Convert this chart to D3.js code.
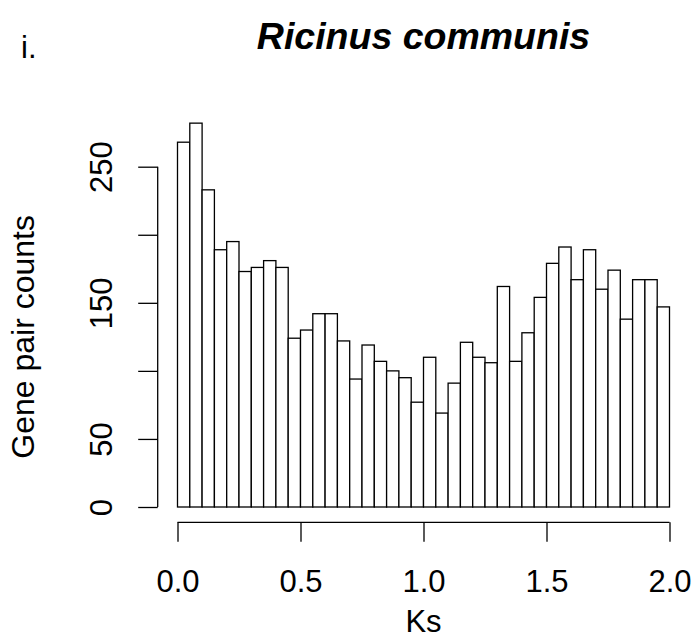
<!DOCTYPE html>
<html>
	<head>
		<meta charset="utf-8">
		<title>Ks histogram: Ricinus communis</title>
		<script src="https://d3js.org/d3.v7.min.js"></script>
		<style type="text/css">
			body { margin: 0; background: #fff; }
			text { font-family: "Liberation Sans", Arial, sans-serif; fill: #000; }
		</style>
	</head>
	<body>
		<script type="text/javascript">

			var svgWidth = 692;
			var svgHeight = 642;

			// bin edges every 0.05 from 0 to 2.0
			var binStarts = [
				0.00, 0.05, 0.10, 0.15, 0.20, 0.25, 0.30, 0.35, 0.40, 0.45,
				0.50, 0.55, 0.60, 0.65, 0.70, 0.75, 0.80, 0.85, 0.90, 0.95,
				1.00, 1.05, 1.10, 1.15, 1.20, 1.25, 1.30, 1.35, 1.40, 1.45,
				1.50, 1.55, 1.60, 1.65, 1.70, 1.75, 1.80, 1.85, 1.90, 1.95
			];
			var binWidth = 0.05;

			// gene pair counts per bin
			var counts = [
				268, 282, 233, 189, 195, 173, 176, 181, 176, 124,
				130, 142, 142, 122, 94, 119, 107, 100, 95, 77,
				110, 69, 91, 121, 110, 106, 162, 107, 128, 154,
				179, 191, 167, 189, 160, 174, 138, 167, 167, 147
			];

			var xTicks = [0, 0.5, 1.0, 1.5, 2.0];
			var yTicks = [0, 50, 100, 150, 200, 250];
			var yTickLabels = ['0', '50', '', '150', '', '250'];

			var mainTitle = 'Ricinus communis';
			var panelLabel = 'i.';
			var xTitle = 'Ks';
			var yTitle = 'Gene pair counts';

			var xScale = d3.scaleLinear()
				.domain([0, 2])
				.range([177.5, 669.5]);

			var yScale = d3.scaleLinear()
				.domain([0, 250])
				.range([507, 166.7]);

			var svg = d3.select('body')
				.append('svg')
				.attr('width', svgWidth)
				.attr('height', svgHeight);

			// bars
			svg.selectAll('rect.bar')
				.data(counts)
				.enter()
				.append('rect')
				.attr('class', 'bar')
				.attr('x', function(d, i) { return xScale(binStarts[i]); })
				.attr('y', function(d) { return yScale(d); })
				.attr('width', function(d, i) { return xScale(binStarts[i] + binWidth) - xScale(binStarts[i]); })
				.attr('height', function(d) { return yScale(0) - yScale(d); })
				.attr('fill', '#fff')
				.attr('stroke', '#000')
				.attr('stroke-width', 1.3);

			// x axis, drawn below the bars like R does
			var xAxis = d3.axisBottom(xScale)
				.tickValues(xTicks)
				.tickFormat(d3.format('.1f'))
				.tickSize(19.5)
				.tickPadding(9);

			var gx = svg.append('g')
				.attr('transform', 'translate(0,522.3)')
				.call(xAxis);
			gx.select('.domain')
				.attr('d', 'M' + xScale(0) + ',0H' + xScale(2))
				.attr('stroke-width', 1.3);
			gx.selectAll('.tick line').attr('stroke-width', 1.3);
			gx.selectAll('.tick text')
				.attr('font-size', 31)
				.attr('font-family', '"Liberation Sans", Arial, sans-serif')
				.attr('dy', null)
				.attr('y', 69.5);

			// y axis
			var yAxis = d3.axisLeft(yScale)
				.tickValues(yTicks)
				.tickFormat(function(d, i) { return yTickLabels[i]; })
				.tickSize(19.5);

			var gy = svg.append('g')
				.attr('transform', 'translate(157.7,0)')
				.call(yAxis);
			gy.select('.domain')
				.attr('d', 'M0,' + yScale(0) + 'V' + yScale(250))
				.attr('stroke-width', 1.3);
			gy.selectAll('.tick line').attr('stroke-width', 1.3);
			gy.selectAll('.tick text')
				.attr('font-size', 31)
				.attr('font-family', '"Liberation Sans", Arial, sans-serif')
				.attr('text-anchor', 'middle')
				.attr('dy', null)
				.attr('x', null)
				.attr('transform', 'translate(-46,0) rotate(-90)');

			// titles
			svg.append('text')
				.attr('x', (xScale(0) + xScale(2)) / 2)
				.attr('y', 49)
				.attr('text-anchor', 'middle')
				.attr('font-size', 37.5)
				.attr('font-weight', 'bold')
				.attr('font-style', 'italic')
				.text(mainTitle);

			svg.append('text')
				.attr('x', 21)
				.attr('y', 58)
				.attr('font-size', 31)
				.text(panelLabel);

			svg.append('text')
				.attr('x', (xScale(0) + xScale(2)) / 2)
				.attr('y', 631.5)
				.attr('text-anchor', 'middle')
				.attr('font-size', 31)
				.text(xTitle);

			svg.append('text')
				.attr('transform', 'translate(33.5,' + ((yScale(0) + yScale(250)) / 2) + ') rotate(-90)')
				.attr('text-anchor', 'middle')
				.attr('font-size', 32)
				.text(yTitle);

		</script>
	</body>
</html>
